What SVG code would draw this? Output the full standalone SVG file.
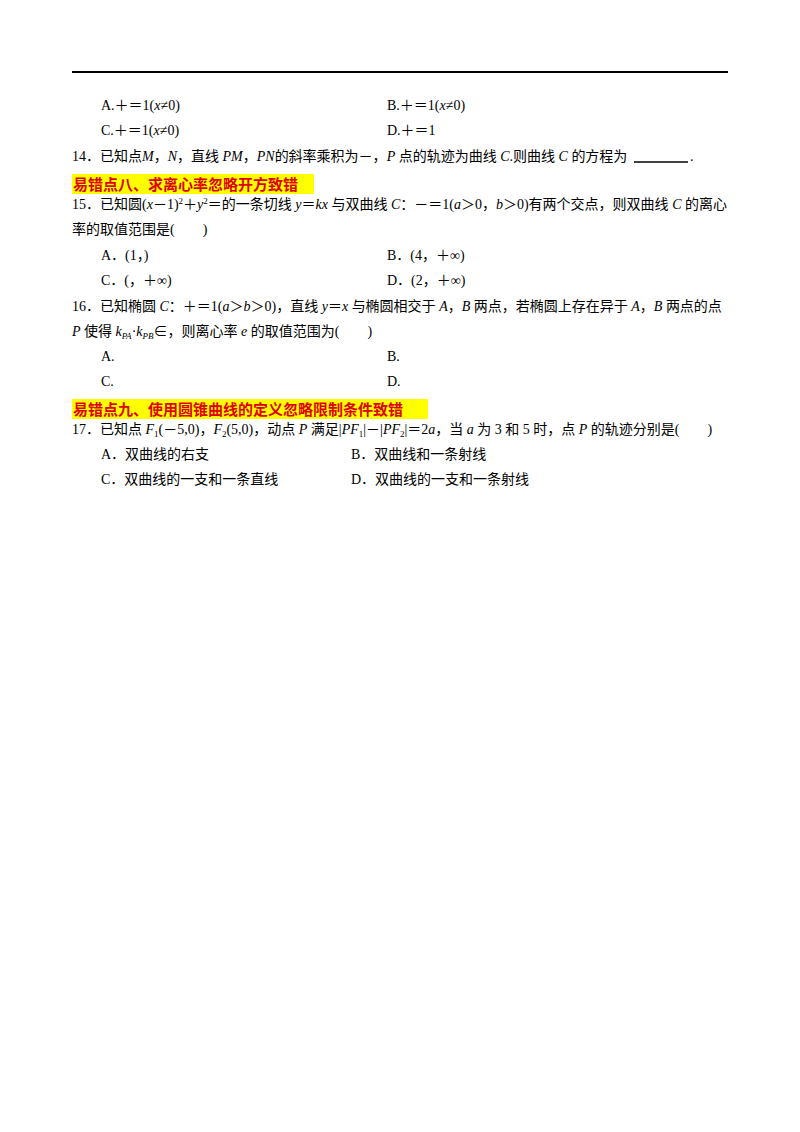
<svg xmlns="http://www.w3.org/2000/svg" width="800" height="1132" viewBox="0 0 800 1132">
<style>
text{font-family:"Liberation Serif","Noto Sans CJK SC",serif;font-size:14px;fill:#000}
.i{font-style:italic}
.h{font-family:"Noto Sans CJK SC",sans-serif;font-size:15px;font-weight:bold;fill:#e00000}
.s{font-size:9px}
</style>
<rect width="800" height="1132" fill="#fff"/>
<line x1="72" y1="72" x2="728" y2="72" stroke="#000" stroke-width="2"/>
<text x="101" y="110">A.＋＝1(<tspan class="i">x</tspan>≠0)</text>
<text x="387" y="110">B.＋＝1(<tspan class="i">x</tspan>≠0)</text>
<text x="101" y="135">C.＋＝1(<tspan class="i">x</tspan>≠0)</text>
<text x="387" y="135">D.＋＝1</text>
<text x="72" y="161">14．已知点<tspan class="i">M</tspan>，<tspan class="i">N</tspan>，直线 <tspan class="i">PM</tspan>，<tspan class="i">PN</tspan>的斜率乘积为－，<tspan class="i">P</tspan> 点的轨迹为曲线 <tspan class="i">C</tspan>.则曲线 <tspan class="i">C</tspan> 的方程为</text>
<line x1="634" y1="162" x2="688" y2="162" stroke="#000" stroke-width="1.3"/>
<text x="690" y="161">.</text>
<rect x="72" y="174" width="242" height="20" fill="#ffff00"/>
<text class="h" x="73" y="190">易错点八、求离心率忽略开方致错</text>
<text x="72" y="209">15．已知圆(<tspan class="i">x</tspan>－1)<tspan class="s" dy="-5">2</tspan><tspan dy="5">＋</tspan><tspan class="i">y</tspan><tspan class="s" dy="-5">2</tspan><tspan dy="5">＝的一条切线 </tspan><tspan class="i">y</tspan>＝<tspan class="i">kx</tspan> 与双曲线 <tspan class="i">C</tspan>：－＝1(<tspan class="i">a</tspan>＞0，<tspan class="i">b</tspan>＞0)有两个交点，则双曲线 <tspan class="i">C</tspan> 的离心</text>
<text x="72" y="234">率的取值范围是(　　)</text>
<text x="101" y="260">A．(1，)</text>
<text x="387" y="260">B．(4，＋∞)</text>
<text x="101" y="285">C．(，＋∞)</text>
<text x="387" y="285">D．(2，＋∞)</text>
<text x="72" y="311">16．已知椭圆 <tspan class="i">C</tspan>：＋＝1(<tspan class="i">a</tspan>＞<tspan class="i">b</tspan>＞0)，直线 <tspan class="i">y</tspan>＝<tspan class="i">x</tspan> 与椭圆相交于 <tspan class="i">A</tspan>，<tspan class="i">B</tspan> 两点，若椭圆上存在异于 <tspan class="i">A</tspan>，<tspan class="i">B</tspan> 两点的点</text>
<text x="72" y="336"><tspan class="i">P</tspan> 使得 <tspan class="i">k</tspan><tspan class="s i" dy="3">PA</tspan><tspan dy="-3">·</tspan><tspan class="i">k</tspan><tspan class="s i" dy="3">PB</tspan><tspan dy="-3">∈，则离心率 </tspan><tspan class="i">e</tspan> 的取值范围为(　　)</text>
<text x="101" y="361">A.</text>
<text x="387" y="361">B.</text>
<text x="101" y="386">C.</text>
<text x="387" y="386">D.</text>
<rect x="72" y="399" width="356" height="20" fill="#ffff00"/>
<text class="h" x="73" y="415">易错点九、使用圆锥曲线的定义忽略限制条件致错</text>
<text x="72" y="434">17．已知点 <tspan class="i">F</tspan><tspan class="s" dy="3">1</tspan><tspan dy="-3">(－5,0)，</tspan><tspan class="i">F</tspan><tspan class="s" dy="3">2</tspan><tspan dy="-3">(5,0)，动点 </tspan><tspan class="i">P</tspan> 满足|<tspan class="i">PF</tspan><tspan class="s" dy="3">1</tspan><tspan dy="-3">|－|</tspan><tspan class="i">PF</tspan><tspan class="s" dy="3">2</tspan><tspan dy="-3">|＝2</tspan><tspan class="i">a</tspan>，当 <tspan class="i">a</tspan> 为 3 和 5 时，点 <tspan class="i">P</tspan> 的轨迹分别是(　　)</text>
<text x="101" y="459">A．双曲线的右支</text>
<text x="351" y="459">B．双曲线和一条射线</text>
<text x="101" y="484">C．双曲线的一支和一条直线</text>
<text x="351" y="484">D．双曲线的一支和一条射线</text>
</svg>
